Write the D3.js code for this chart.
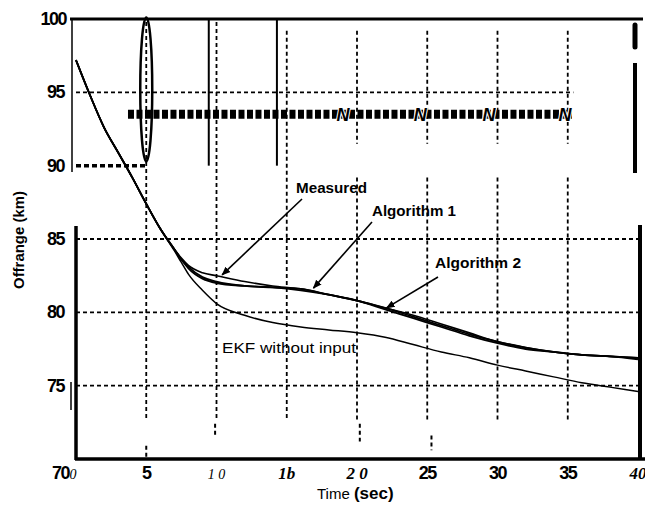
<!DOCTYPE html>
<html>
<head>
<meta charset="utf-8">
<script src="https://cdn.jsdelivr.net/npm/d3@7"></script>
<style>
  body { margin: 0; background: #fff; }
  svg { display: block; }
</style>
</head>
<body>
<script>
const width = 645;
const height = 505;

// time axis (sec)
const times     = [0, 1, 2, 3, 4, 5, 6, 7, 7.5, 8, 9, 10, 12, 14, 16, 18, 20, 22, 24, 26, 28, 30, 32, 34, 36, 38, 40];
const measured  = [97.2, 94.8, 92.6, 90.9, 89.2, 87.4, 85.7, 84.3, 83.7, 83.2, 82.7, 82.5, 82.1, 81.8, 81.6, 81.2, 80.8, 80.3, 79.8, 79.2, 78.6, 78.0, 77.6, 77.3, 77.1, 77.0, 76.9];
const algo1     = [97.2, 94.8, 92.6, 90.9, 89.2, 87.4, 85.7, 84.3, 83.6, 83.1, 82.4, 82.1, 81.8, 81.7, 81.6, 81.2, 80.8, 80.3, 79.7, 79.1, 78.5, 78.0, 77.6, 77.3, 77.1, 77.0, 76.9];
const algo2     = [97.2, 94.8, 92.6, 90.9, 89.2, 87.4, 85.7, 84.3, 83.6, 83.0, 82.3, 82.0, 81.8, 81.7, 81.5, 81.2, 80.8, 80.2, 79.6, 79.0, 78.4, 77.9, 77.5, 77.3, 77.1, 77.0, 76.8];
const ekf       = [97.2, 94.8, 92.6, 90.9, 89.2, 87.4, 85.7, 84.2, 83.4, 82.6, 81.5, 80.6, 79.8, 79.3, 79.0, 78.8, 78.6, 78.3, 77.8, 77.3, 76.9, 76.4, 76.0, 75.6, 75.2, 74.9, 74.6];

const xTicks = [0, 5, 10, 15, 20, 25, 30, 35, 40];
const xTickLabels = ["0", "5", "1 0", "1b", "2 0", "25", "30", "35", "40"];
const yTicks = [70, 75, 80, 85, 90, 95, 100];
const yTickLabels = ["70", "75", "80", "85", "90", "95", "100"];

// scanned tick fonts differ label by label
const xTickStyle = ["serifI", "bold", "serifI", "serifBI", "serifBI", "bold", "bold", "bold", "serifBI"];

const x = d3.scaleLinear().domain([0, 40]).range([76, 638]);
const y = d3.scaleLinear().domain([70, 100]).range([459, 19]);

const svg = d3.select("body").append("svg")
  .attr("width", width)
  .attr("height", height);

const ink = "#000";

// dashed grid
const grid = svg.append("g").attr("stroke", ink).attr("stroke-width", 1.8).attr("stroke-dasharray", "4,3");
grid.selectAll("line.h")
  .data([75, 80, 85, 95])
  .enter().append("line")
  .attr("x1", x(0)).attr("x2", d => d === 95 ? x(35.4) : x(40))
  .attr("y1", d => y(d)).attr("y2", d => y(d));
grid.append("line")
  .attr("x1", x(0)).attr("x2", x(5))
  .attr("y1", y(90)).attr("y2", y(90))
  .attr("stroke-width", 3.5).attr("stroke-dasharray", "5,3");
// upper part of the verticals, broken for 20..35
grid.selectAll("line.vt")
  .data(xTicks.slice(1, 8))
  .enter().append("line")
  .attr("x1", d => x(d)).attr("x2", d => x(d))
  .attr("y1", d => d <= 10 ? y(99.8) : y(99.2))
  .attr("y2", d => d >= 20 ? y(91.5) : y(85));
grid.selectAll("line.vb")
  .data(xTicks.slice(1, 8))
  .enter().append("line")
  .attr("x1", d => x(d)).attr("x2", d => x(d))
  .attr("y1", d => d >= 20 ? y(89.2) : y(85))
  .attr("y2", y(72.6));

// scan artifacts in the upper band
const art = svg.append("g").attr("stroke", ink);
art.append("line")
  .attr("x1", x(3.7)).attr("x2", x(35.3))
  .attr("y1", y(93.5)).attr("y2", y(93.5))
  .attr("stroke-width", 9).attr("stroke-dasharray", "6,2.5");
[9.45, 14.3].forEach(t => {
  art.append("line")
    .attr("x1", x(t)).attr("x2", x(t))
    .attr("y1", y(100)).attr("y2", y(90))
    .attr("stroke-width", 2);
});
art.append("ellipse")
  .attr("cx", x(5)).attr("cy", y(95.2))
  .attr("rx", 6).attr("ry", 72)
  .attr("fill", "none").attr("stroke-width", 2.5);
svg.selectAll("text.n")
  .data([19, 24.5, 29.4, 34.8])
  .enter().append("text")
  .attr("x", d => x(d)).attr("y", y(93.5) + 7)
  .attr("text-anchor", "middle")
  .attr("font-family", "Liberation Sans")
  .attr("font-style", "italic").attr("font-weight", "bold")
  .attr("font-size", 18)
  .attr("stroke", "#fff").attr("stroke-width", 2).attr("paint-order", "stroke")
  .text("N");
[[9.9, 72.4, 71.6], [20.2, 72.4, 71.2], [25.3, 71.6, 70.6], [5, 70.9, 70]].forEach(s => {
  art.append("line")
    .attr("x1", x(s[0])).attr("x2", x(s[0]))
    .attr("y1", y(s[1])).attr("y2", y(s[2]))
    .attr("stroke-width", 2).attr("stroke-dasharray", "4,3");
});

// frame
const frame = svg.append("g").attr("stroke", ink);
frame.append("line").attr("x1", 70).attr("x2", 643).attr("y1", 19).attr("y2", 19).attr("stroke-width", 3);
frame.append("line").attr("x1", 72).attr("x2", 72).attr("y1", 19).attr("y2", 172).attr("stroke-width", 1.5);
frame.append("line").attr("x1", 76).attr("x2", 76).attr("y1", 226).attr("y2", 460).attr("stroke-width", 3.5);
frame.append("line").attr("x1", 71).attr("x2", 71).attr("y1", 382).attr("y2", 410).attr("stroke-width", 1.5);
frame.append("line").attr("x1", 75).attr("x2", 645).attr("y1", 459).attr("y2", 459).attr("stroke-width", 3.5);
frame.append("line").attr("x1", 635).attr("x2", 635).attr("y1", 63).attr("y2", 173).attr("stroke-width", 4);
frame.append("line").attr("x1", 635).attr("x2", 635).attr("y1", 25).attr("y2", 47).attr("stroke-width", 5).attr("stroke-linecap", "round");
frame.append("line").attr("x1", 640).attr("x2", 640).attr("y1", 225).attr("y2", 459).attr("stroke-width", 4);

// curves
const line = d3.line()
  .x((d, i) => x(times[i]))
  .y(d => y(d))
  .curve(d3.curveMonotoneX);

const series = [
  { name: "ekf", values: ekf, w: 1.5 },
  { name: "algo2", values: algo2, w: 1.8 },
  { name: "algo1", values: algo1, w: 1.8 },
  { name: "measured", values: measured, w: 1.6 }
];
svg.append("g").selectAll("path")
  .data(series)
  .enter().append("path")
  .attr("d", d => line(d.values))
  .attr("fill", "none")
  .attr("stroke", ink)
  .attr("stroke-width", d => d.w);

// annotations with arrows
svg.append("defs").append("marker")
  .attr("id", "head")
  .attr("viewBox", "0 0 10 10")
  .attr("refX", 9).attr("refY", 5)
  .attr("markerWidth", 9).attr("markerHeight", 9)
  .attr("markerUnits", "userSpaceOnUse")
  .attr("orient", "auto")
  .append("path").attr("d", "M0,1L10,5L0,9z").attr("fill", ink);

const notes = [
  { text: "Measured", tx: 296, ty: 193, len: 71, from: [302, 199], to: [x(10.4), y(82.55)] },
  { text: "Algorithm 1", tx: 372, ty: 216, len: 84, from: [372, 222], to: [x(16.9), y(81.65)] },
  { text: "Algorithm 2", tx: 435, ty: 268, len: 86, from: [438, 277], to: [x(22.1), y(80.3)] }
];
const ann = svg.append("g");
notes.forEach(n => {
  ann.append("text")
    .attr("x", n.tx).attr("y", n.ty)
    .attr("font-family", "Liberation Sans")
    .attr("font-weight", "bold")
    .attr("font-size", 15)
    .attr("textLength", n.len)
    .attr("lengthAdjust", "spacingAndGlyphs")
    .text(n.text);
  ann.append("line")
    .attr("x1", n.from[0]).attr("y1", n.from[1])
    .attr("x2", n.to[0]).attr("y2", n.to[1])
    .attr("stroke", ink).attr("stroke-width", 1.6)
    .attr("marker-end", "url(#head)");
});
ann.append("text")
  .attr("x", 222).attr("y", 353)
  .attr("font-family", "Liberation Sans")
  .attr("font-size", 15)
  .attr("textLength", 134)
  .attr("lengthAdjust", "spacingAndGlyphs")
  .text("EKF without input");

// y tick labels
svg.append("g").selectAll("text")
  .data(yTicks)
  .enter().append("text")
  .attr("x", d => d === 70 ? 69 : (d === 100 ? 66 : 64))
  .attr("y", d => d === 70 ? 479 : y(d) + 6)
  .attr("text-anchor", "end")
  .attr("font-family", "Liberation Sans")
  .attr("font-weight", "bold")
  .attr("font-size", 18)
  .attr("letter-spacing", -1.5)
  .text((d, i) => yTickLabels[i]);

// x tick labels
const fontFor = {
  bold:    { fam: "Liberation Sans", style: "normal", weight: "bold", size: 18, ls: -1.5 },
  serifI:  { fam: "Liberation Serif", style: "italic", weight: "normal", size: 14, ls: 0 },
  serifBI: { fam: "Liberation Serif", style: "italic", weight: "bold", size: 17, ls: 0 }
};
svg.append("g").selectAll("text")
  .data(xTicks)
  .enter().append("text")
  .attr("x", (d, i) => i === 0 ? 73 : x(d))
  .attr("y", 479)
  .attr("text-anchor", "middle")
  .attr("font-family", (d, i) => fontFor[xTickStyle[i]].fam)
  .attr("font-style", (d, i) => fontFor[xTickStyle[i]].style)
  .attr("font-weight", (d, i) => fontFor[xTickStyle[i]].weight)
  .attr("font-size", (d, i) => fontFor[xTickStyle[i]].size)
  .attr("letter-spacing", (d, i) => fontFor[xTickStyle[i]].ls)
  .text((d, i) => xTickLabels[i]);

// axis titles
const xt = svg.append("text")
  .attr("x", 317).attr("y", 499)
  .attr("font-family", "Liberation Sans")
  .attr("font-size", 15);
xt.append("tspan").text("Time ");
xt.append("tspan").attr("font-weight", "bold").attr("font-size", 17).text("(sec)");

svg.append("text")
  .attr("transform", "translate(24,240) rotate(-90)")
  .attr("text-anchor", "middle")
  .attr("font-family", "Liberation Sans")
  .attr("font-weight", "bold")
  .attr("font-size", 15)
  .attr("textLength", 98)
  .attr("lengthAdjust", "spacingAndGlyphs")
  .text("Offrange (km)");
</script>
</body>
</html>
